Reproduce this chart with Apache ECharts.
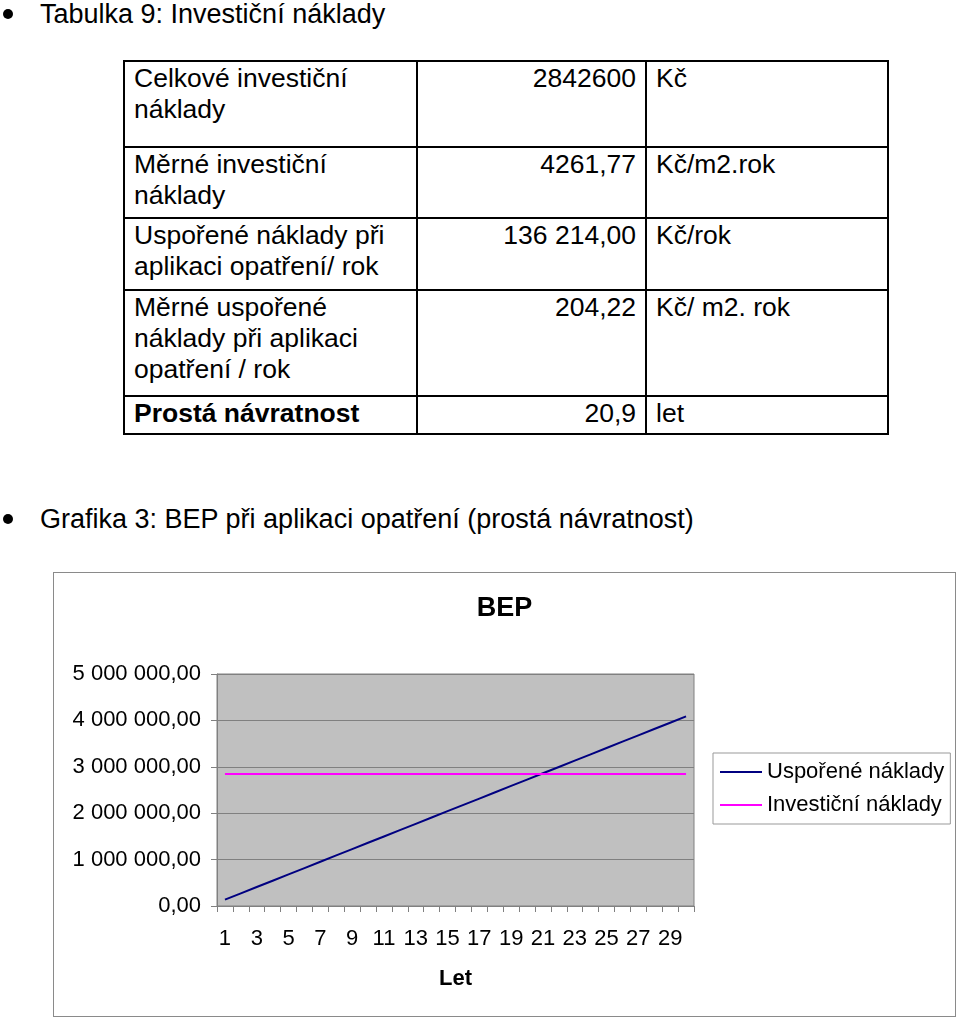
<!DOCTYPE html>
<html>
<head>
<meta charset="utf-8">
<script src="https://cdn.jsdelivr.net/npm/echarts@6/dist/echarts.min.js"></script>
<style>
  html, body { margin: 0; padding: 0; background: #fff; }
  body { width: 960px; height: 1021px; position: relative; font-family: "Liberation Sans", Arial, sans-serif; color: #000; overflow: hidden; }
  .bullet { position: absolute; left: 3px; width: 10px; height: 10px; border-radius: 50%; background: #000; }
  .heading { position: absolute; left: 40px; font-size: 27px; line-height: 30px; white-space: nowrap; }
  table.t { position: absolute; left: 123px; top: 60px; border-collapse: collapse; font-size: 26.5px; }
  table.t td { border: 2px solid #000; vertical-align: top; padding: 1px 9px 0 9px; line-height: 31px; box-sizing: border-box; }
  table.t td.v { text-align: right; }
  table.t tr.last td { vertical-align: middle; padding-top: 0; padding-bottom: 3px; }
  #chartbox { position: absolute; left: 53px; top: 572px; width: 903px; height: 445px; border: 1px solid #8a8a8a; box-sizing: border-box; }
  #chart { width: 901px; height: 443px; }
</style>
</head>
<body>
<div class="bullet" style="top:9px"></div>
<div class="heading" style="top:-1px">Tabulka 9: Investiční náklady</div>

<table class="t" id="tbl"></table>

<div class="bullet" style="top:514px"></div>
<div class="heading" style="top:504px">Grafika 3: BEP při aplikaci opatření (prostá návratnost)</div>

<div id="chartbox"><div id="chart"></div></div>

<script>
// ---- table data ----
var rowLabels = ["Celkové investiční<br>náklady", "Měrné investiční<br>náklady", "Uspořené náklady při<br>aplikaci opatření/ rok", "Měrné uspořené<br>náklady při aplikaci<br>opatření / rok", "Prostá návratnost"];
var rowValues = ["2842600", "4261,77", "136 214,00", "204,22", "20,9"];
var rowUnits = ["Kč", "Kč/m2.rok", "Kč/rok", "Kč/ m2. rok", "let"];

// ---- chart data ----
var years = ["1","2","3","4","5","6","7","8","9","10","11","12","13","14","15","16","17","18","19","20","21","22","23","24","25","26","27","28","29","30"];
var usporeneNaklady = [136214, 272428, 408642, 544856, 681070, 817284, 953498, 1089712, 1225926, 1362140, 1498354, 1634568, 1770782, 1906996, 2043210, 2179424, 2315638, 2451852, 2588066, 2724280, 2860494, 2996708, 3132922, 3269136, 3405350, 3541564, 3677778, 3813992, 3950206, 4086420];
var investicniNaklady = [2842600, 2842600, 2842600, 2842600, 2842600, 2842600, 2842600, 2842600, 2842600, 2842600, 2842600, 2842600, 2842600, 2842600, 2842600, 2842600, 2842600, 2842600, 2842600, 2842600, 2842600, 2842600, 2842600, 2842600, 2842600, 2842600, 2842600, 2842600, 2842600, 2842600];
var seriesNames = ["Uspořené náklady", "Investiční náklady"];
var chartTitle = "BEP";
var xAxisName = "Let";

// build table
var rowHeights = [86, 71, 72, 106, 38];
var colWidths = [293, 229, 242];
var tbl = document.getElementById('tbl');
var html = '';
for (var i = 0; i < rowLabels.length; i++) {
  var last = (i === rowLabels.length - 1);
  html += '<tr' + (last ? ' class="last"' : '') + ' style="height:' + rowHeights[i] + 'px">';
  html += '<td style="width:' + colWidths[0] + 'px' + (last ? ';font-weight:bold' : '') + '">' + rowLabels[i] + '</td>';
  html += '<td class="v" style="width:' + colWidths[1] + 'px">' + rowValues[i] + '</td>';
  html += '<td style="width:' + colWidths[2] + 'px">' + rowUnits[i] + '</td>';
  html += '</tr>';
}
tbl.innerHTML = html;

function fmt(v) {
  var s = Math.round(v).toString().replace(/\B(?=(\d{3})+(?!\d))/g, ' ');
  return s + ',00';
}

var chart = echarts.init(document.getElementById('chart'), null, { renderer: 'canvas' });
var font = '"Liberation Sans", Arial, sans-serif';
chart.setOption({
  animation: false,
  backgroundColor: '#fff',
  textStyle: { fontFamily: font, color: '#000' },
  title: {
    text: chartTitle, left: 'center', top: 17,
    textStyle: { fontFamily: font, fontSize: 27, fontWeight: 'bold', color: '#000' }
  },
  legend: {
    orient: 'vertical', left: 659, top: 180,
    backgroundColor: '#fff', borderColor: '#999', borderWidth: 1,
    padding: [8, 6, 8, 7], itemGap: 11, itemWidth: 42, itemHeight: 2, icon: 'rect',
    textStyle: { fontFamily: font, fontSize: 22, color: '#000', padding: [0, 0, 0, 0] },
    data: seriesNames
  },
  grid: {
    left: 163, top: 101, width: 477, height: 232,
    show: true, backgroundColor: '#c0c0c0', borderColor: '#808080', borderWidth: 1,
    containLabel: false
  },
  xAxis: {
    type: 'category', data: years, boundaryGap: true,
    name: xAxisName, nameLocation: 'middle', nameGap: 62,
    nameTextStyle: { fontFamily: font, fontSize: 22, fontWeight: 'bold', color: '#000' },
    axisLine: { lineStyle: { color: '#808080', width: 1 } },
    axisTick: { show: true, interval: 0, length: 6, inside: false, lineStyle: { color: '#808080' } },
    axisLabel: { interval: 1, margin: 22, fontSize: 22, color: '#000', fontFamily: font },
    splitLine: { show: false }
  },
  yAxis: {
    type: 'value', min: 0, max: 5000000, interval: 1000000,
    axisLine: { show: true, lineStyle: { color: '#808080', width: 1 } },
    axisTick: { show: true, length: 6, lineStyle: { color: '#808080' } },
    axisLabel: { margin: 16, fontSize: 22, color: '#000', fontFamily: font, formatter: fmt },
    splitLine: { show: true, lineStyle: { color: '#808080', width: 1 } }
  },
  series: [
    {
      name: seriesNames[0], type: 'line', data: usporeneNaklady,
      symbol: 'none', lineStyle: { color: '#000080', width: 2 }, itemStyle: { color: '#000080' }
    },
    {
      name: seriesNames[1], type: 'line', data: investicniNaklady,
      symbol: 'none', lineStyle: { color: '#ff00ff', width: 2 }, itemStyle: { color: '#ff00ff' }
    }
  ]
});
</script>
</body>
</html>
